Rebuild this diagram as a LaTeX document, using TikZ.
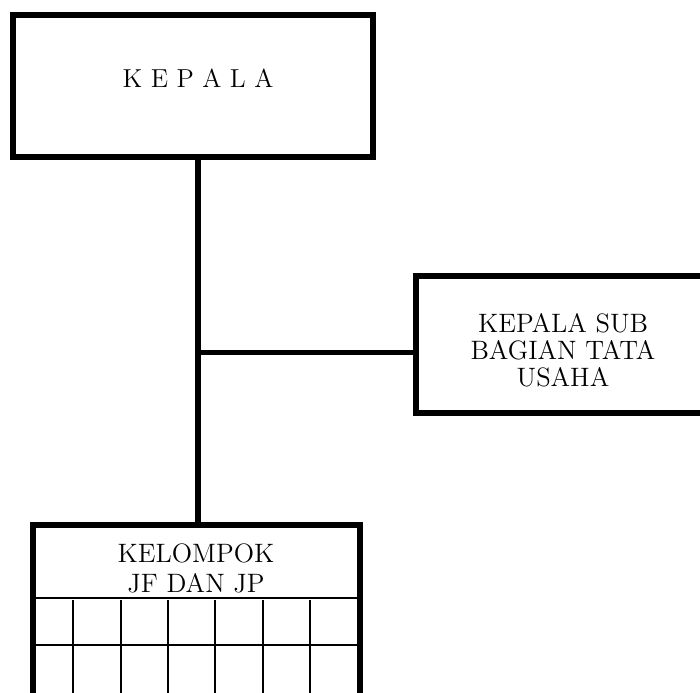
\documentclass[tikz,border=0pt]{standalone}
\usetikzlibrary{positioning}
\begin{document}
\begin{tikzpicture}[x=0.5pt,y=-0.5pt,
    box/.style={draw,line width=3pt,rectangle,inner sep=0pt,outer sep=0pt},
    txt/.style={align=center,font=\fontsize{13.3}{#1}\selectfont},
    gridline/.style={line width=0.8pt},
    conn/.style={line width=3pt}]
  \useasboundingbox (0,0) rectangle (700,692);
  \clip (0,0) rectangle (700,692);
  % kotak
  \node[box,minimum width=180pt,minimum height=71pt] (kepala) at (193,86) {};
  \node[font=\fontsize{13}{15}\selectfont] (kepalatxt) at (198,78) {K E P A L A};
  \node[box,minimum width=148pt,minimum height=68.5pt] (ktu) at (564,344.5) {};
  \node[txt=13.5pt] (ktutxt) at (563,350) {KEPALA SUB\\BAGIAN TATA\\USAHA};
  \node[box,minimum width=163.5pt,minimum height=107.5pt,anchor=north] (kelompok) at (196.5,525) {};
  \node[txt=15pt] (jfjp) at (196,568) {KELOMPOK\\JF DAN JP};
  % tabel
  \draw[gridline] (33,598) -- (360,598);
  \draw[gridline] (33,645) -- (360,645);
  \foreach \x in {73,121,168,215,263,310}
    \draw[gridline] (\x,600) -- (\x,700);
  % garis
  \coordinate (joint) at (198,352);
  \draw[conn] (kepala.south -| joint) -- (kelompok.north -| joint);
  \draw[conn,line width=2.5pt] (joint) -- (joint -| ktu.west);
\end{tikzpicture}
\end{document}
